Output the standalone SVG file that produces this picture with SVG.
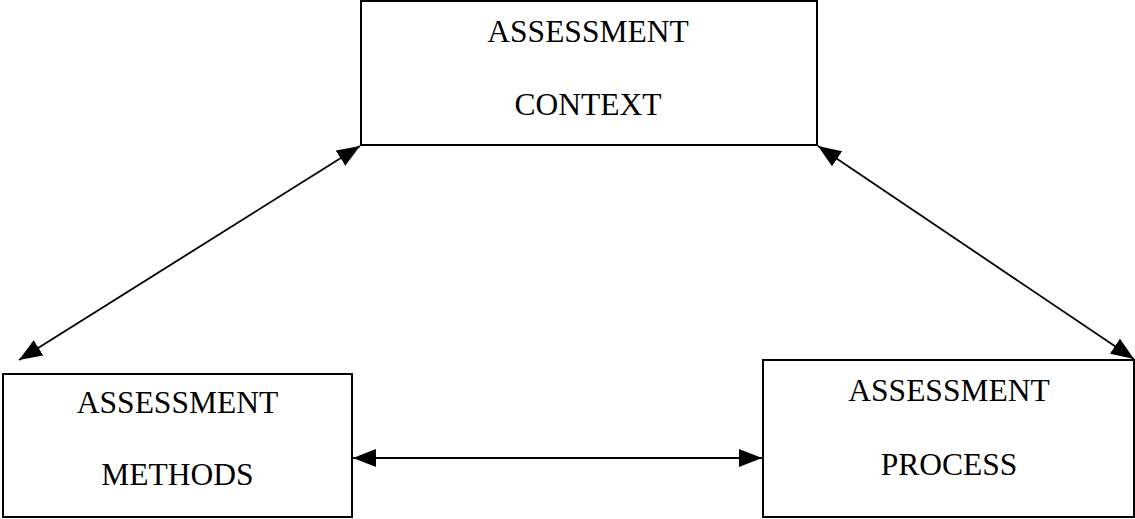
<svg xmlns="http://www.w3.org/2000/svg" width="1135" height="519" viewBox="0 0 1135 519">
<style>
.box{fill:#fff;stroke:#000;stroke-width:2}
.lbl{font-family:"Liberation Serif","Times New Roman",serif;font-size:31.5px;fill:#000;text-anchor:middle}
.conn{stroke:#000;stroke-width:1.8;fill:none}
</style>
<defs>
<marker id="ah" viewBox="0 0 23 18" refX="23" refY="9" markerWidth="23" markerHeight="18" markerUnits="userSpaceOnUse" orient="auto-start-reverse">
<path d="M0,0 L23,9 L0,18 Z" fill="#000"/>
</marker>
</defs>
<rect width="1135" height="519" fill="#fff"/>
<g id="context">
<rect class="box" x="361" y="1" width="456" height="144"/>
<text class="lbl" x="588" y="42">ASSESSMENT</text>
<text class="lbl" x="588" y="115">CONTEXT</text>
</g>
<g id="methods">
<rect class="box" x="3" y="374" width="349" height="143"/>
<text class="lbl" x="177.5" y="413">ASSESSMENT</text>
<text class="lbl" x="177.5" y="485">METHODS</text>
</g>
<g id="process">
<rect class="box" x="763" y="360" width="371" height="157"/>
<text class="lbl" x="949" y="401">ASSESSMENT</text>
<text class="lbl" x="949" y="475">PROCESS</text>
</g>
<g id="connectors">
<line class="conn" x1="19" y1="360" x2="360" y2="146" marker-start="url(#ah)" marker-end="url(#ah)"/>
<line class="conn" x1="818" y1="146" x2="1134" y2="359" marker-start="url(#ah)" marker-end="url(#ah)"/>
<line class="conn" x1="353" y1="458" x2="762" y2="458" marker-start="url(#ah)" marker-end="url(#ah)"/>
</g>
</svg>
